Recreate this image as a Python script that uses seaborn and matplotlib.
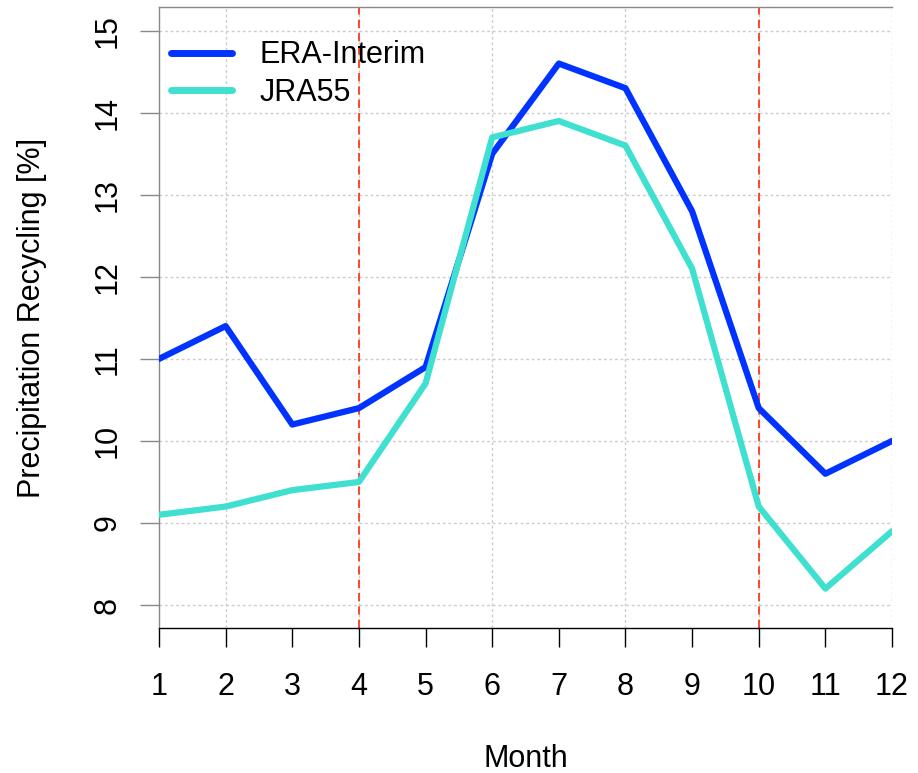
import pandas as pd
import seaborn as sns
import matplotlib.pyplot as plt

# datos
meses = list(range(1, 13))
era_interim = [11.0, 11.4, 10.2, 10.4, 10.9, 13.5, 14.6, 14.3, 12.8, 10.4, 9.6, 10.0]
jra55 = [9.1, 9.2, 9.4, 9.5, 10.7, 13.7, 13.9, 13.6, 12.1, 9.2, 8.2, 8.9]
meses_marcados = [4, 10]

df = pd.DataFrame({
    "Month": meses * 2,
    "valor": era_interim + jra55,
    "serie": ["ERA-Interim"] * 12 + ["JRA55"] * 12,
})

sns.set_style("white")
plt.rcParams['font.family'] = ['Liberation Sans', 'DejaVu Sans']
plt.rcParams['text.color'] = 'black'
plt.rcParams['axes.labelcolor'] = 'black'
plt.rcParams['xtick.color'] = 'black'
plt.rcParams['ytick.color'] = 'black'

fig = plt.figure(figsize=(9.18, 7.73), dpi=100)
ax = fig.add_axes([0.1732, 0.1876, 0.7985, 0.8034])
ax.grid(False)

# cuadricula
for x in range(2, 13, 2):
    ax.axvline(x, color="#cccccc", linestyle=(0, (2, 2)), linewidth=1, zorder=0)
for y in range(8, 16):
    ax.axhline(y, color="#cccccc", linestyle=(0, (2, 2)), linewidth=1, zorder=0)

for m in meses_marcados:
    ax.axvline(m, color="#ff2a10", linestyle=(0, (5, 3)), linewidth=1.2, zorder=1)

sns.lineplot(data=df, x="Month", y="valor", hue="serie",
             palette={"ERA-Interim": "#0033ff", "JRA55": "#40e0d0"},
             linewidth=4.5, ax=ax, zorder=3)

ax.set_xlim(1, 12)
ax.set_ylim(7.72, 15.29)
ax.set_xticks(meses)
ax.set_yticks(range(8, 16))
ax.tick_params(axis='both', labelsize=22, length=14, width=1, direction='out',
               bottom=True, left=True)
ax.tick_params(axis='x', pad=18, color="black")
ax.tick_params(axis='y', labelrotation=90, pad=12, color="#888888")
for lab in ax.get_yticklabels():
    lab.set_va("center")

ax.set_xlabel("Month", fontsize=22, labelpad=30)
ax.set_ylabel("Precipitation Recycling [%]", fontsize=22, labelpad=33)

for s in ["left", "top"]:
    ax.spines[s].set_color("#888888")
    ax.spines[s].set_linewidth(1)
ax.spines["right"].set_visible(False)
ax.spines["bottom"].set_color("black")
ax.spines["bottom"].set_linewidth(1)

leg = ax.legend(loc="upper left", bbox_to_anchor=(0.0, 0.966), frameon=False,
                fontsize=22, handlelength=2.0, handletextpad=0.9,
                borderaxespad=0.0, labelspacing=0.25)
for h in leg.get_lines():
    h.set_linewidth(5)

fig.savefig("out.png", dpi=100)
